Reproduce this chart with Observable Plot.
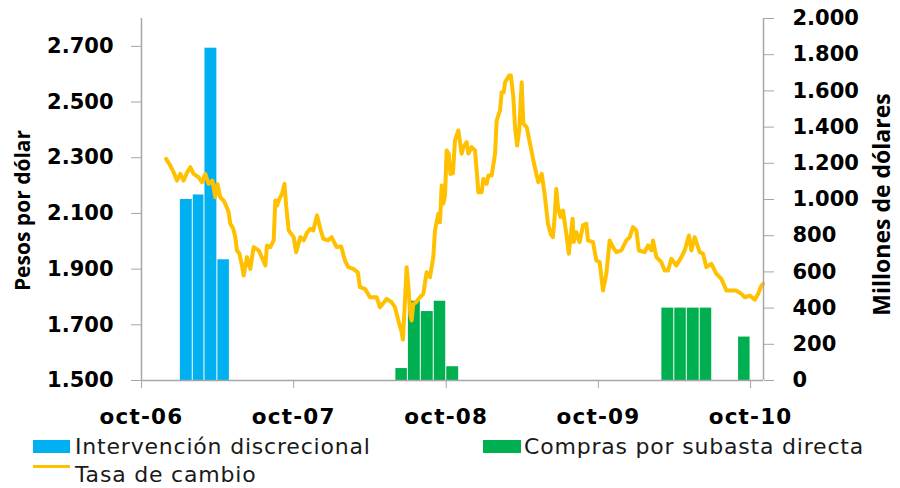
<!DOCTYPE html>
<html><head><meta charset="utf-8">
<script src="https://cdn.jsdelivr.net/npm/d3@7"></script>
<script src="https://cdn.jsdelivr.net/npm/@observablehq/plot@0.6"></script>
<style>
body{margin:0;background:#fff;}
#wrap{position:relative;width:900px;height:488px;}
#chart svg{display:block;}
#chart svg g[aria-label="x-axis tick label"] text{letter-spacing:1.2px;}
.lg{position:absolute;font-family:"DejaVu Sans",sans-serif;font-size:22px;line-height:22px;letter-spacing:0.8px;color:#1a1a1a;white-space:nowrap;}
.sw{position:absolute;}
</style></head>
<body>
<div id="wrap">
  <div id="chart"></div>
  <div class="sw" style="left:33px;top:440px;width:37px;height:13px;background:#00B0F0"></div>
  <div class="lg" style="left:75px;top:436px">Intervención discrecional</div>
  <div class="sw" style="left:483px;top:440px;width:38px;height:13px;background:#00B050"></div>
  <div class="lg" style="left:524px;top:436px">Compras por subasta directa</div>
  <div class="sw" style="left:33px;top:465px;width:37px;height:3px;background:#FFC000"></div>
  <div class="lg" style="left:75px;top:464px">Tasa de cambio</div>
</div>
<script>
// Intervención discrecional (millones de dólares, mensual)
const intervencionMeses = ["2007-01","2007-02","2007-03","2007-04"];
const intervencionValores = [1000, 1025, 1836, 667];
// Compras por subasta directa (millones de dólares, mensual)
const subastaMeses = ["2008-06","2008-07","2008-08","2008-09","2008-10","2010-03","2010-04","2010-05","2010-06","2010-09"];
const subastaValores = [66, 438, 381, 438, 76, 400, 400, 400, 400, 240];
// Tasa de cambio (pesos por dólar)
const tasaFechas = ["2006-11-29","2006-12-09","2006-12-17","2006-12-25","2007-01-02","2007-01-10","2007-01-18","2007-01-26","2007-02-03","2007-02-15","2007-02-23","2007-03-03","2007-03-11","2007-03-20","2007-03-27","2007-04-01","2007-04-08","2007-04-16","2007-04-22","2007-04-28","2007-05-02","2007-05-09","2007-05-14","2007-05-18","2007-05-24","2007-05-30","2007-06-03","2007-06-11","2007-06-19","2007-06-27","2007-07-09","2007-07-18","2007-07-25","2007-07-29","2007-08-06","2007-08-14","2007-08-18","2007-08-22","2007-08-28","2007-09-03","2007-09-09","2007-09-13","2007-09-19","2007-10-01","2007-10-07","2007-10-17","2007-10-25","2007-11-02","2007-11-10","2007-11-17","2007-11-26","2007-12-04","2007-12-11","2007-12-23","2007-12-31","2008-01-12","2008-01-23","2008-02-01","2008-02-09","2008-02-21","2008-03-03","2008-03-08","2008-03-20","2008-04-01","2008-04-17","2008-04-25","2008-05-11","2008-05-23","2008-05-31","2008-06-08","2008-06-16","2008-06-19","2008-06-24","2008-06-28","2008-07-02","2008-07-07","2008-07-10","2008-07-14","2008-07-20","2008-07-30","2008-08-07","2008-08-15","2008-08-23","2008-08-31","2008-09-04","2008-09-12","2008-09-16","2008-09-20","2008-09-24","2008-09-28","2008-10-02","2008-10-07","2008-10-11","2008-10-17","2008-10-22","2008-10-30","2008-11-07","2008-11-11","2008-11-19","2008-11-23","2008-12-01","2008-12-09","2008-12-13","2008-12-17","2008-12-25","2008-12-29","2009-01-06","2009-01-10","2009-01-18","2009-01-26","2009-01-30","2009-02-07","2009-02-11","2009-02-16","2009-02-19","2009-02-24","2009-03-01","2009-03-05","2009-03-11","2009-03-15","2009-03-20","2009-03-25","2009-03-31","2009-04-04","2009-04-12","2009-04-20","2009-04-28","2009-05-06","2009-05-10","2009-05-18","2009-05-25","2009-06-02","2009-06-09","2009-06-14","2009-06-18","2009-06-22","2009-06-26","2009-07-02","2009-07-08","2009-07-16","2009-07-22","2009-07-31","2009-08-03","2009-08-09","2009-08-17","2009-08-25","2009-09-02","2009-09-06","2009-09-18","2009-09-26","2009-10-04","2009-10-12","2009-10-20","2009-10-28","2009-11-05","2009-11-13","2009-11-25","2009-12-07","2009-12-15","2009-12-23","2009-12-31","2010-01-06","2010-01-20","2010-01-28","2010-02-05","2010-02-09","2010-02-17","2010-03-01","2010-03-09","2010-03-17","2010-03-25","2010-04-06","2010-04-18","2010-04-26","2010-05-06","2010-05-12","2010-05-20","2010-06-01","2010-06-09","2010-06-17","2010-06-29","2010-07-11","2010-07-23","2010-08-04","2010-08-16","2010-08-28","2010-09-09","2010-09-17","2010-09-29","2010-10-11","2010-10-19","2010-10-27","2010-10-31"];
const tasaValores = [2296,2272,2248,2218,2242,2218,2246,2266,2242,2230,2212,2242,2206,2218,2158,2206,2158,2146,2128,2104,2063,2046,2015,1967,1955,1913,1877,1943,1901,1979,1967,1938,1913,1985,1979,2003,2146,2128,2153,2170,2206,2128,2039,2015,1961,2015,2003,2031,2045,2039,2093,2045,2009,2003,2015,1979,1981,1931,1907,1901,1888,1835,1829,1799,1799,1763,1793,1781,1763,1716,1674,1647,1787,1907,1841,1734,1716,1775,1780,1799,1811,1889,1871,1943,2039,2099,2068,2200,2135,2164,2326,2314,2242,2244,2362,2398,2314,2337,2356,2315,2338,2326,2254,2176,2176,2224,2206,2236,2236,2314,2434,2470,2535,2535,2571,2583,2595,2595,2517,2410,2344,2398,2571,2422,2410,2350,2290,2236,2212,2242,2170,2063,2024,2015,2087,2188,2122,2087,2110,2027,1955,2081,1997,2033,1997,2057,2063,2003,1997,1931,1925,1823,1883,2003,1979,1961,1967,2003,2015,2051,2039,1967,1961,1985,1967,2003,1943,1925,1895,1895,1937,1913,1943,1967,2021,1967,2015,1961,1955,1907,1919,1883,1865,1823,1823,1823,1811,1799,1805,1790,1811,1841,1847];
// Ejes
const ticksPesos = [1500,1700,1900,2100,2300,2500,2700];
const ticksMillones = [0,200,400,600,800,1000,1200,1400,1600,1800,2000];
const ticksFechas = ["2006-10-01","2007-10-01","2008-10-01","2009-10-01","2010-10-01"];
const dominioFechas = ["2006-10-01","2010-11-01"];
const dominioPesos = [1500, 2800];
const dominioMillones = [0, 2000];

const toY = m => dominioPesos[0] + (m - dominioMillones[0]) * (dominioPesos[1]-dominioPesos[0]) / (dominioMillones[1]-dominioMillones[0]);
const fromY = v => Math.round((v - dominioPesos[0]) * (dominioMillones[1]-dominioMillones[0]) / (dominioPesos[1]-dominioPesos[0]));
const fmt = v => d3.format(",")(v).replace(/,/g, ".");
const meses = (ms, vs) => ms.map((m, i) => { const d = new Date(m + "-01"); return {x1: d, x2: d3.utcMonth.offset(d, 1), v: vs[i]}; });
const intervencion = meses(intervencionMeses, intervencionValores);
const subasta = meses(subastaMeses, subastaValores);
const tasa = tasaFechas.map((f, i) => ({fecha: new Date(f), valor: tasaValores[i]}));
const xStart = new Date(dominioFechas[0]), xEnd = new Date(dominioFechas[1]);
const gris = "#a6a6a6";
const tickFont = {fontSize: 21, fontWeight: "bold", fontFamily: "DejaVu Sans"};

const chart = Plot.plot({
  width: 900, height: 430,
  marginLeft: 141, marginRight: 137, marginTop: 18, marginBottom: 50,
  style: {background: "#fff", color: "#000", overflow: "visible"},
  x: {type: "utc", domain: [xStart, xEnd]},
  y: {domain: dominioPesos},
  marks: [
    Plot.rect(intervencion, {x1: "x1", x2: "x2", y1: () => toY(0), y2: d => toY(d.v), fill: "#00B0F0", insetLeft: 0.5, insetRight: 0.5}),
    Plot.rect(subasta, {x1: "x1", x2: "x2", y1: () => toY(0), y2: d => toY(d.v), fill: "#00B050", insetLeft: 0.5, insetRight: 0.5}),
    Plot.line(tasa, {x: "fecha", y: "valor", stroke: "#FFC000", strokeWidth: 4, strokeLinejoin: "round"}),
    Plot.ruleY([dominioPesos[0]], {stroke: gris, strokeWidth: 1.5}),
    Plot.ruleX([xStart, xEnd], {stroke: gris, strokeWidth: 1.5}),
    Plot.axisY(ticksPesos, {anchor: "left", tickSize: 10, tickPadding: 18, tickFormat: fmt, stroke: gris, fill: "#000", label: null, ...tickFont}),
    Plot.axisY(ticksMillones.map(toY), {anchor: "right", tickSize: 10, tickPadding: 19, tickFormat: v => fmt(fromY(v)), stroke: gris, fill: "#000", label: null, ...tickFont}),
    Plot.axisX(ticksFechas.map(d => new Date(d)), {anchor: "bottom", tickSize: 8, tickPadding: 20, tickFormat: d => "oct-" + d3.utcFormat("%y")(d), stroke: gris, fill: "#000", label: null, fontSize: 21.5, fontWeight: "bold", fontFamily: "DejaVu Sans"}),
    Plot.text(["Pesos por dólar"], {text: d => d, frameAnchor: "left", textAnchor: "middle", dx: -118.5, dy: 11, rotate: -90, fontSize: 21, fontWeight: "bold", fontFamily: "Open Sans", fill: "#000"}),
    Plot.text(["Millones de dólares"], {text: d => d, frameAnchor: "right", textAnchor: "middle", dx: 119.5, dy: 5, rotate: -90, fontSize: 23, fontWeight: "bold", fontFamily: "Open Sans", fill: "#000"})
  ]
});
document.getElementById("chart").appendChild(chart);
</script>
</body></html>
